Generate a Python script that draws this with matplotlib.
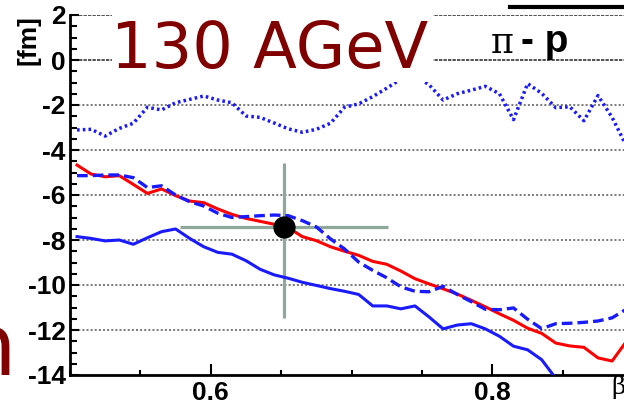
import numpy as np
import matplotlib
matplotlib.use('Agg')
import matplotlib.pyplot as plt
from matplotlib.patches import Rectangle
from matplotlib.lines import Line2D
from matplotlib.ticker import MultipleLocator

plt.rcParams['axes.unicode_minus'] = False

# bin centres in beta
beta = [0.505, 0.515, 0.525, 0.535, 0.545, 0.555, 0.565, 0.575, 0.585, 0.595,
        0.605, 0.615, 0.625, 0.635, 0.645, 0.655, 0.665, 0.675, 0.685, 0.695,
        0.705, 0.715, 0.725, 0.735, 0.745, 0.755, 0.765, 0.775, 0.785, 0.795,
        0.805, 0.815, 0.825, 0.835, 0.845, 0.855, 0.865, 0.875, 0.885, 0.895]

# pi - p correlation offsets [fm]
offset_red = [-4.67, -5.07, -5.19, -5.14, -5.53, -5.93, -5.73, -6.03, -6.27, -6.34,
              -6.62, -6.86, -7.04, -7.17, -7.30, -7.45, -7.85, -8.03, -8.30, -8.50,
              -8.68, -8.95, -9.08, -9.38, -9.72, -9.95, -10.17, -10.40, -10.68, -10.97,
              -11.28, -11.57, -11.92, -12.15, -12.58, -12.71, -12.77, -13.24, -13.38, -12.52]

offset_dashed = [-5.14, -5.14, -5.11, -5.11, -5.23, -5.67, -5.59, -6.00, -6.30, -6.49,
                 -6.81, -7.00, -6.96, -6.92, -6.89, -6.92, -7.14, -7.42, -7.95, -8.40,
                 -8.98, -9.35, -9.68, -10.08, -10.28, -10.30, -10.06, -10.42, -10.74, -11.08,
                 -11.10, -11.02, -11.52, -11.94, -11.72, -11.70, -11.66, -11.60, -11.46, -11.08]

offset_blue = [-7.85, -7.93, -8.04, -8.00, -8.19, -7.90, -7.63, -7.51, -7.93, -8.30,
               -8.55, -8.63, -8.92, -9.30, -9.55, -9.70, -9.88, -10.02, -10.16, -10.28,
               -10.42, -10.93, -10.93, -11.06, -10.93, -11.42, -11.95, -11.78, -11.72, -11.95,
               -12.28, -12.72, -12.88, -13.32, -14.15, -14.60, np.nan, np.nan, np.nan, np.nan]

offset_dotted = [-3.11, -3.08, -3.38, -3.04, -2.81, -2.10, -2.22, -1.90, -1.75, -1.60,
                 -1.78, -1.90, -2.49, -2.55, -2.80, -3.06, -3.21, -3.08, -2.81, -2.10,
                 -1.95, -1.63, -1.25, -0.85, -0.70, -1.10, -1.78, -1.50, -1.34, -1.17,
                 -1.50, -2.65, -1.05, -1.48, -2.12, -2.08, -2.70, -1.58, -2.55, -3.80]

# measured point with its errors
point_beta = 0.652
point_offset = -7.41
point_beta_err = 0.074
point_offset_err_low = 4.07
point_offset_err_high = 2.82

grid_levels = [-12, -10, -8, -6, -4, -2]
dense_levels = [0, 2]

W, H = 624, 408
fig = plt.figure(figsize=(W / 100, H / 100), dpi=100)
ax = fig.add_axes([70 / W, 33 / H, 563.2 / W, 360 / H])

for lv in grid_levels:
    ax.axhline(lv, color='#555555', lw=1.1, ls=(0, (1.3, 1.4)), zorder=1)
for lv in dense_levels:
    ax.axhline(lv, color='#333333', lw=1.2, ls=(0, (2.0, 0.7)), zorder=1)

# crosshair error bars
ax.errorbar([point_beta], [point_offset], xerr=[point_beta_err],
            yerr=[[point_offset_err_low], [point_offset_err_high]],
            fmt='none', ecolor='#8ea89c', elinewidth=2.3, capsize=0, zorder=2)

ax.plot(beta, offset_dotted, color='#1a1aff', lw=2.5, ls=(0, (0.75, 0.9)), zorder=3)
ax.plot(beta, offset_blue, color='#1a1aff', lw=2.2, zorder=3)
ax.plot(beta, offset_red, color='#ff0000', lw=2.2, zorder=3)
ax.plot(beta, offset_dashed, color='#1a1aff', lw=2.4, ls=(0, (3.2, 1.5)), zorder=3)

ax.plot([point_beta], [point_offset], 'o', color='black', markersize=15, zorder=4)

ax.set_xlim(0.5, 0.9)
ax.set_ylim(-14, 2)

ax.spines['top'].set_visible(False)
ax.spines['right'].set_visible(False)
ax.spines['left'].set_linewidth(2)
ax.spines['bottom'].set_linewidth(2)

ax.set_xticks([0.6, 0.8])
ax.set_xticklabels(['0.6', '0.8'])
ax.xaxis.set_minor_locator(MultipleLocator(0.05))
ax.set_yticks([-14, -12, -10, -8, -6, -4, -2, 0, 2])
ax.set_yticklabels(['-14', '-12', '-10', '-8', '-6', '-4', '-2', '0', '2'])
ax.yaxis.set_minor_locator(MultipleLocator(0.5))

ax.tick_params(axis='x', which='major', direction='in', length=8, width=1.5, pad=4)
ax.tick_params(axis='x', which='minor', direction='in', length=3.3, width=1.5)
ax.tick_params(axis='y', which='major', direction='in', length=6.5, width=1.5, pad=3)
ax.tick_params(axis='y', which='minor', direction='in', length=5, width=1.5)
for lab in ax.get_xticklabels() + ax.get_yticklabels():
    lab.set_fontfamily('Liberation Sans')
    lab.set_fontweight('bold')
    lab.set_fontsize(19)

# white box behind the energy label
fig.patches.append(Rectangle((112 / W, 1 - 82 / H), 321 / W, 82 / H,
                             transform=fig.transFigure, facecolor='white',
                             edgecolor='none', zorder=5))
fig.text(111 / W, 1 - 68.3 / H, '130 AGeV', fontsize=46, color='#800000',
         family='DejaVu Sans', va='baseline', ha='left', zorder=6)

# leftover label from the neighbouring panel
fig.text(16 / W, 1 - 375 / H, 'n', fontsize=62, color='#800000',
         family='DejaVu Sans', va='baseline', ha='right')

fig.text(29 / W, 1 - 40 / H, '[fm]', rotation=90, fontsize=19, fontweight='bold',
         family='Liberation Sans', ha='center', va='center')

fig.text(501.7 / W, 1 - 53 / H, 'π', fontsize=25, family='DejaVu Serif',
         ha='center', va='baseline')
fig.text(521 / W, 1 - 52 / H, '- p', fontsize=28, fontweight='bold',
         family='Liberation Sans', ha='left', va='baseline')

fig.text(611 / W, 1 - 394 / H, 'β', fontsize=18, family='DejaVu Serif',
         ha='left', va='baseline')

# frame edge above the legend
fig.lines.append(Line2D([510 / W, 1.0], [1 - 7 / H, 1 - 7 / H], color='black',
                        lw=3, transform=fig.transFigure))

fig.savefig('out.png', dpi=100)
